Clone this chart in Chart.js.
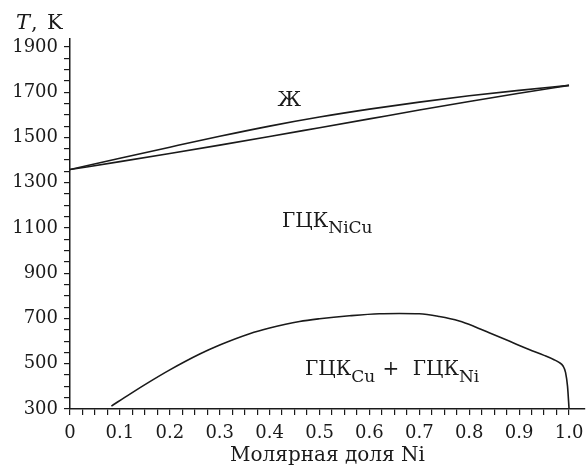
<!DOCTYPE html>
<html>
<head>
<meta charset="utf-8">
<script src="https://cdn.jsdelivr.net/npm/chart.js@4.4.1/dist/chart.umd.min.js"></script>
<style>
  html, body { margin: 0; padding: 0; background: #fff; }
</style>
</head>
<body>
<canvas id="chart" width="588" height="466"></canvas>
<script>
// Cu-Ni phase diagram
const niFrac = [0, 0.1, 0.2, 0.3, 0.4, 0.5, 0.6, 0.7, 0.8, 0.9, 1.0];
const liquidusT = [1358, 1408, 1457, 1505, 1550, 1590, 1625, 1656, 1684, 1708, 1730];
const solidusT = [1358, 1393, 1429, 1466, 1504, 1543, 1582, 1621, 1659, 1695, 1730];

// miscibility gap of the solid solution
const gapX = [0.083, 0.12, 0.16, 0.2, 0.26, 0.3, 0.36, 0.4, 0.46, 0.5, 0.56, 0.62, 0.66, 0.7, 0.74, 0.78, 0.81, 0.84, 0.88, 0.92, 0.95, 0.97, 0.98, 0.988, 0.993, 0.997, 1.0];
const gapT = [313, 366, 421, 473, 543, 583, 633, 658, 687, 699, 712, 721, 722, 721, 709, 689, 665, 637, 600, 563, 537, 518, 506, 490, 462, 400, 303];

const xLabelValues = [0, 0.1, 0.2, 0.3, 0.4, 0.5, 0.6, 0.7, 0.8, 0.9, 1.0];
const xLabels = ['0', '0.1', '0.2', '0.3', '0.4', '0.5', '0.6', '0.7', '0.8', '0.9', '1.0'];
const yLabelValues = [300, 500, 700, 900, 1100, 1300, 1500, 1700, 1900];
const yLabels = ['300', '500', '700', '900', '1100', '1300', '1500', '1700', '1900'];

const SERIF = '"DejaVu Serif", "Liberation Serif", serif';
const INK = '#1a1a1a';

const toPoints = (xs, ys) => xs.map((x, i) => ({ x, y: ys[i] }));

function minorTicks(from, to, step) {
  const out = [];
  for (let v = from; v <= to + step / 2; v += step) out.push({ value: +v.toFixed(4) });
  return out;
}

function labelFor(values, labels, v) {
  const i = values.findIndex(a => Math.abs(a - v) < 1e-6);
  return i >= 0 ? labels[i] : '';
}

// text with a subscript part
function drawSub(ctx, x, y, main, sub, size) {
  ctx.font = `${size}px ${SERIF}`;
  ctx.fillText(main, x, y);
  const w = ctx.measureText(main).width;
  ctx.font = `${Math.round(size * 0.84)}px ${SERIF}`;
  ctx.fillText(sub, x + w, y + size * 0.33);
}

const labelsPlugin = {
  id: 'phaseLabels',
  afterDraw(chart) {
    const { ctx, scales: { x, y } } = chart;
    ctx.save();
    ctx.fillStyle = INK;
    ctx.textBaseline = 'alphabetic';
    ctx.textAlign = 'left';

    // axis caption T, K
    ctx.font = `italic 21px ${SERIF}`;
    ctx.fillText('T', 16, 29);
    const tw = ctx.measureText('T').width;
    ctx.font = `21px ${SERIF}`;
    ctx.fillText(',', 16 + tw + 1, 29);
    ctx.fillText('K', 47, 29);

    // liquid
    ctx.font = `21px ${SERIF}`;
    ctx.fillText('Ж', x.getPixelForValue(0.416), y.getPixelForValue(1640));

    // solid solution
    drawSub(ctx, x.getPixelForValue(0.425), y.getPixelForValue(1105), 'ГЦК', 'NiCu', 20);

    // two-phase region
    const by = y.getPixelForValue(450);
    drawSub(ctx, x.getPixelForValue(0.471), by, 'ГЦК', 'Cu', 20);
    ctx.font = `20px ${SERIF}`;
    ctx.textAlign = 'center';
    ctx.fillText('+', x.getPixelForValue(0.643), by);
    ctx.textAlign = 'left';
    drawSub(ctx, x.getPixelForValue(0.687), by, 'ГЦК', 'Ni', 20);
    ctx.restore();
  }
};

const lineStyle = {
  borderColor: INK,
  borderWidth: 1.6,
  pointRadius: 0,
  fill: false,
  cubicInterpolationMode: 'monotone'
};

new Chart(document.getElementById('chart'), {
  type: 'line',
  data: {
    datasets: [
      { label: 'liquidus', data: toPoints(niFrac, liquidusT), ...lineStyle },
      { label: 'solidus', data: toPoints(niFrac, solidusT), ...lineStyle },
      { label: 'gap', data: toPoints(gapX, gapT), ...lineStyle }
    ]
  },
  options: {
    responsive: false,
    devicePixelRatio: 1,
    animation: false,
    layout: { padding: { top: 39, right: 3, left: 0, bottom: 0 } },
    plugins: { legend: { display: false }, tooltip: { enabled: false } },
    scales: {
      x: {
        type: 'linear',
        min: 0,
        max: 1.032,
        afterBuildTicks: s => { s.ticks = minorTicks(0, 1, 0.025); },
        afterFit: s => { s.height = 57; s.paddingRight = 0; },
        grid: { display: true, drawOnChartArea: false, drawTicks: true, tickLength: 6, color: INK, lineWidth: 1.2 },
        border: { display: true, color: INK, width: 1.5 },
        ticks: {
          autoSkip: false,
          maxRotation: 0,
          padding: 8,
          color: INK,
          font: { family: SERIF, size: 18 },
          callback: v => labelFor(xLabelValues, xLabels, v)
        },
        title: {
          display: true,
          text: 'Молярная доля Ni',
          color: INK,
          font: { family: SERIF, size: 20 },
          padding: { top: 0, bottom: -2 }
        }
      },
      y: {
        type: 'linear',
        min: 300,
        max: 1935,
        afterBuildTicks: s => { s.ticks = minorTicks(300, 1900, 50); },
        afterFit: s => { s.width = 70; },
        grid: { display: true, drawOnChartArea: false, drawTicks: true, tickLength: 6, color: INK, lineWidth: 1.2 },
        border: { display: true, color: INK, width: 1.5 },
        ticks: {
          autoSkip: false,
          padding: 6,
          color: INK,
          font: { family: SERIF, size: 18 },
          callback: v => labelFor(yLabelValues, yLabels, v)
        }
      }
    }
  },
  plugins: [labelsPlugin]
});
</script>
</body>
</html>
